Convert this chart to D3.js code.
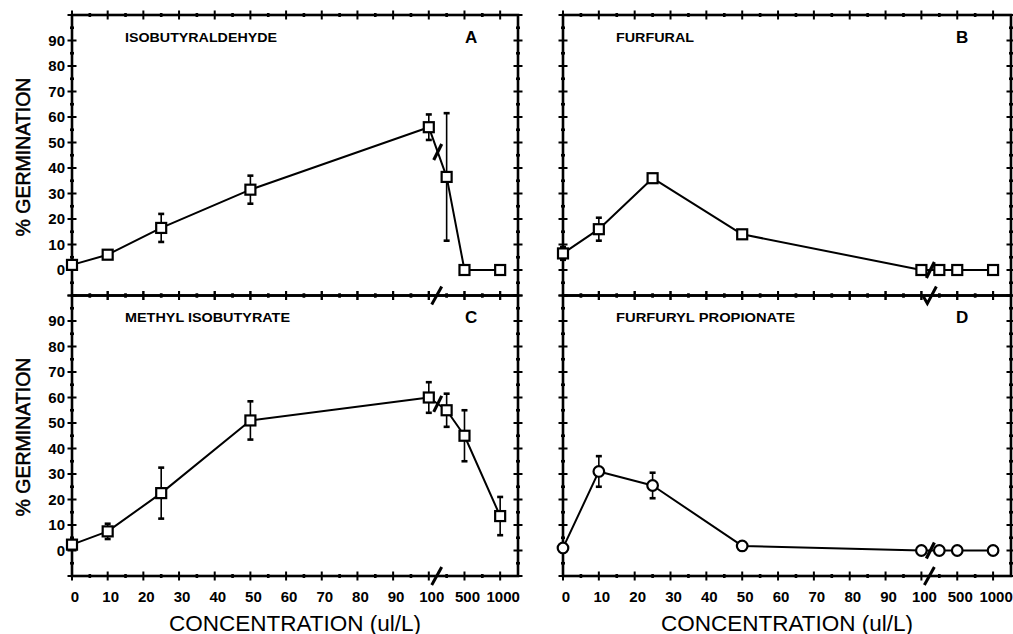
<!DOCTYPE html>
<html>
<head>
<meta charset="utf-8">
<script src="https://cdn.jsdelivr.net/npm/d3@7/dist/d3.min.js"></script>
<style>
  html, body { margin: 0; padding: 0; background: #fff; }
  svg { display: block; }
  text { font-family: "Liberation Sans", Arial, Helvetica, sans-serif; fill: #000; }
</style>
</head>
<body>
<svg id="chart" width="1013" height="634"></svg>
<script>
// ---------------- data ----------------
const concentrations = [0, 10, 25, 50, 100, 250, 500, 1000];

const isobutyraldehyde      = [2, 6, 16.5, 31.5, 56, 36.5, 0, 0];
const isobutyraldehydeErr   = [0, 0, 5.5, 5.5, 5, 25, 0, 0];

const furfural              = [6.5, 16, 36, 14, 0, 0, 0, 0];
const furfuralErr           = [2.5, 4.5, 0, 0, 0, 0, 0, 0];

const methylIsobutyrate     = [2.3, 7.5, 22.5, 51, 60, 55, 45, 13.5];
const methylIsobutyrateErr  = [0, 3, 10, 7.5, 6, 6.5, 10, 7.5];

const furfurylPropionate    = [1, 31, 25.5, 1.8, 0, 0, 0, 0];
const furfurylPropionateErr = [0, 6, 5, 0, 0, 0, 0, 0];

const xTickValues = [0, 10, 20, 30, 40, 50, 60, 70, 80, 90, 100, 500, 1000];
const xTickLabels = ["0", "10", "20", "30", "40", "50", "60", "70", "80", "90", "100", "500", "1000"];
const xMinorValues = [5, 15, 25, 35, 45, 55, 65, 75, 85, 95, 250, 750];
const yTickValues = [0, 10, 20, 30, 40, 50, 60, 70, 80, 90];
const yTickLabels = ["0", "10", "20", "30", "40", "50", "60", "70", "80", "90"];
const yAllTicks = [-10, -5, 0, 5, 10, 15, 20, 25, 30, 35, 40, 45, 50, 55, 60, 65, 70, 75, 80, 85, 90, 95, 100];

const panels = [
  { name: "ISOBUTYRALDEHYDE",    letter: "A", values: isobutyraldehyde,   err: isobutyraldehydeErr,   marker: "square", col: 0, row: 0, titleW: 152 },
  { name: "FURFURAL",            letter: "B", values: furfural,           err: furfuralErr,           marker: "square", col: 1, row: 0, titleW: 78 },
  { name: "METHYL ISOBUTYRATE",  letter: "C", values: methylIsobutyrate,  err: methylIsobutyrateErr,  marker: "square", col: 0, row: 1, titleW: 165 },
  { name: "FURFURYL PROPIONATE", letter: "D", values: furfurylPropionate, err: furfurylPropionateErr, marker: "circle", col: 1, row: 1, titleW: 179 }
];

// ---------------- layout ----------------
const svg = d3.select("#chart");
const colX = [{ x0: 72, w: 446 }, { x0: 563, w: 448 }];
const rowY = [{ top: 15, bottom: 295.5 }, { top: 295.5, bottom: 576 }];

// virtual axis: 0..100 linear, then equal half-steps for 250, 500, 750, 1000, end
const xDomain = [0, 100, 250, 500, 1000, 1250];
const xVirtual = [0, 100, 105, 110, 120, 125];

function makeX(c) {
  return d3.scaleLinear().domain(xDomain).range(xVirtual.map(v => c.x0 + v * c.w / 125));
}
function makeY(r) {
  return d3.scaleLinear().domain([-10, 100]).range([r.bottom, r.top]);
}

panels.forEach(p => {
  const c = colX[p.col], r = rowY[p.row];
  const x = makeX(c), y = makeY(r);
  const g = svg.append("g");
  const xL = c.x0, xR = c.x0 + c.w;

  // frame
  g.append("rect")
    .attr("x", xL).attr("y", r.top).attr("width", c.w).attr("height", r.bottom - r.top)
    .attr("fill", "none").attr("stroke", "#000").attr("stroke-width", 2.6);

  // crossing ticks: x (top & bottom)
  [r.top, r.bottom].forEach(yy => {
    g.selectAll(null).data(xTickValues).enter().append("line")
      .attr("x1", d => x(d)).attr("x2", d => x(d))
      .attr("y1", yy - 4.5).attr("y2", yy + 4.5)
      .attr("stroke", "#000").attr("stroke-width", 2);
    g.selectAll(null).data(xMinorValues).enter().append("line")
      .attr("x1", d => x(d)).attr("x2", d => x(d))
      .attr("y1", yy - 2).attr("y2", yy + 2)
      .attr("stroke", "#000").attr("stroke-width", 2.6);
  });
  // crossing ticks: y (left & right)
  [xL, xR].forEach(xx => {
    g.selectAll(null).data(yAllTicks).enter().append("line")
      .attr("y1", d => y(d)).attr("y2", d => y(d))
      .attr("x1", d => xx - (d % 10 === 0 ? 4.5 : 2))
      .attr("x2", d => xx + (d % 10 === 0 ? 4.5 : 2))
      .attr("stroke", "#000").attr("stroke-width", d => d % 10 === 0 ? 2 : 2.6);
  });

  // y tick labels (left column only)
  if (p.col === 0) {
    g.selectAll(null).data(yTickValues).enter().append("text")
      .attr("x", xL - 7).attr("y", d => y(d)).attr("dy", "0.36em")
      .attr("text-anchor", "end")
      .style("font-size", "15px").style("font-weight", "bold")
      .text((d, i) => yTickLabels[i]);
  }
  // x tick labels (bottom row only)
  if (p.row === 1) {
    g.selectAll(null).data(xTickValues).enter().append("text")
      .attr("x", d => x(d) + 3).attr("y", r.bottom + 25.5)
      .attr("text-anchor", "middle")
      .style("font-size", "15px").style("font-weight", "bold")
      .text((d, i) => xTickLabels[i]);
  }

  // axis break marks
  const xb = (x(100) + x(250)) / 2;
  const breakPath = p.col === 0
    ? "M-5,9 L5,-9"
    : "M-6,1 L-2,8 L7,-9";
  if (p.row === 0) {
    g.append("path").attr("d", breakPath)
      .attr("transform", `translate(${xb - 1},${r.bottom})`)
      .attr("fill", "none").attr("stroke", "#000").attr("stroke-width", 3);
  } else {
    g.append("path").attr("d", "M-5,9 L5,-9")
      .attr("transform", `translate(${xb - 1},${r.bottom})`)
      .attr("fill", "none").attr("stroke", "#000").attr("stroke-width", 3);
  }

  const pts = concentrations.map((cc, i) => ({ c: cc, v: p.values[i], e: p.err[i] }));

  // error bars
  const eb = pts.filter(d => d.e > 0);
  g.selectAll(null).data(eb).enter().append("line")
    .attr("x1", d => x(d.c)).attr("x2", d => x(d.c))
    .attr("y1", d => y(d.v - d.e)).attr("y2", d => y(d.v + d.e))
    .attr("stroke", "#000").attr("stroke-width", 1.6);
  [-1, 1].forEach(s => {
    g.selectAll(null).data(eb).enter().append("line")
      .attr("x1", d => x(d.c) - 3).attr("x2", d => x(d.c) + 3)
      .attr("y1", d => y(d.v + s * d.e)).attr("y2", d => y(d.v + s * d.e))
      .attr("stroke", "#000").attr("stroke-width", 2.6);
  });

  // line
  const line = d3.line().x(d => x(d.c)).y(d => y(d.v));
  g.append("path").datum(pts).attr("d", line)
    .attr("fill", "none").attr("stroke", "#000").attr("stroke-width", 2).attr("stroke-linejoin", "round");

  // line break mark between 100 and 250
  const i100 = concentrations.indexOf(100), i250 = concentrations.indexOf(250);
  const lb = (y(p.values[i100]) + y(p.values[i250])) / 2;
  g.append("path").attr("d", "M-4,8 L4,-8")
    .attr("transform", `translate(${xb},${lb})`)
    .attr("fill", "none").attr("stroke", "#000").attr("stroke-width", 3.2);

  // markers
  if (p.marker === "square") {
    g.selectAll(null).data(pts).enter().append("rect")
      .attr("x", d => x(d.c) - 5).attr("y", d => y(d.v) - 5)
      .attr("width", 10).attr("height", 10)
      .attr("fill", "#fff").attr("stroke", "#000").attr("stroke-width", 2.2);
  } else {
    g.selectAll(null).data(pts).enter().append("circle")
      .attr("cx", d => x(d.c)).attr("cy", d => y(d.v)).attr("r", 5.3)
      .attr("fill", "#fff").attr("stroke", "#000").attr("stroke-width", 2.2);
  }

  // titles
  const ty = p.row === 0 ? 41.5 : 321.5;
  g.append("text").attr("x", xL + 53).attr("y", ty)
    .attr("textLength", p.titleW).attr("lengthAdjust", "spacingAndGlyphs")
    .style("font-size", "12.5px").style("font-weight", "bold")
    .text(p.name);
  g.append("text").attr("x", xL + 393).attr("y", ty + 1.5)
    .style("font-size", "17px").style("font-weight", "bold")
    .text(p.letter);
});

// axis titles
[157, 437].forEach(cy => {
  svg.append("text")
    .attr("transform", `translate(30,${cy}) rotate(-90)`)
    .attr("text-anchor", "middle")
    .style("font-size", "19.5px").style("stroke", "#000").style("stroke-width", 0.5)
    .text("% GERMINATION");
});
[295, 787].forEach(cx => {
  svg.append("text")
    .attr("x", cx).attr("y", 630.5)
    .attr("text-anchor", "middle")
    .style("font-size", "22.5px")
    .text("CONCENTRATION (ul/L)");
});
</script>
</body>
</html>
